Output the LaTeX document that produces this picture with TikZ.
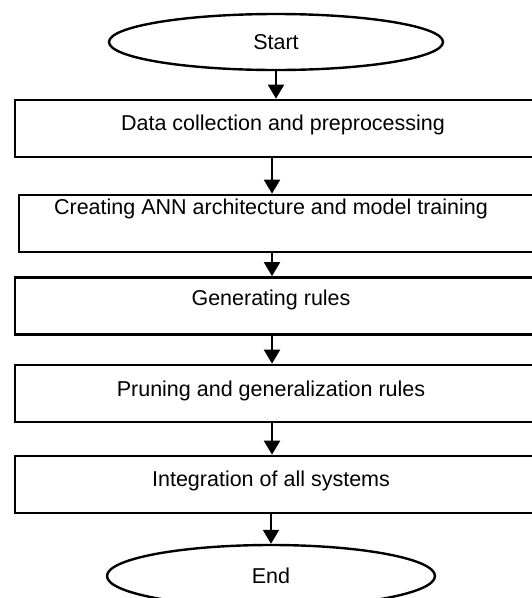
\documentclass[tikz,border=0pt]{standalone}
\usepackage{fontspec}
\setmainfont{Liberation Sans}
\usetikzlibrary{shapes.geometric, arrows.meta}

\tikzset{
	terminal/.style={draw, ellipse, line width=2.4pt, minimum width=334pt, minimum height=56pt, inner sep=0pt, text height=15pt, text depth=0pt},
	procbox/.style={draw, rectangle, line width=2.7pt, minimum width=540pt, minimum height=57pt, inner sep=0pt, text height=15pt, text depth=11pt},
	pad/.style={execute at end node={\hspace*{#1}}},
	flow/.style={line width=2.2pt, -{Triangle[length=14pt, width=16pt]}}
}

\begin{document}
\begin{tikzpicture}[x=1pt, y=-1pt, font=\fontsize{21.5}{26}\selectfont]

\useasboundingbox (0,0) rectangle (532,598);

%% Start
\node[terminal] (start) at (276,42) {Start};

%% Schritte
\node[procbox, pad=4pt] (s1) at (285,128.5) {Data collection and preprocessing};
\node[procbox, text depth=34pt, pad=36pt] (s2) at (289,223.5) {Creating ANN architecture and model training};
\node[procbox, text depth=16pt, pad=28pt] (s3) at (285,306) {Generating rules};
\node[procbox, text depth=10pt, pad=28pt] (s4) at (285,393.5) {Pruning and generalization rules};
\node[procbox, pad=28pt] (s5) at (285,484.5) {Integration of all systems};

%% End
\node[terminal, minimum width=328pt, minimum height=62pt] (end) at (271,576) {End};
%%%%%%%%%%%%%%%%

%% Pfeile
\coordinate (axis) at (272,0);
\draw[flow] (start.south) -- (start.south |- s1.north);
\draw[flow] (s1.south -| axis) -- (s2.north -| axis);
\draw[flow] (s2.south -| axis) -- (s3.north -| axis);
\draw[flow] (s3.south -| axis) -- (s4.north -| axis);
\draw[flow] (s4.south -| axis) -- (s5.north -| axis);
\draw[flow] (end.north |- s5.south) -- (end.north);

\end{tikzpicture}
\end{document}
